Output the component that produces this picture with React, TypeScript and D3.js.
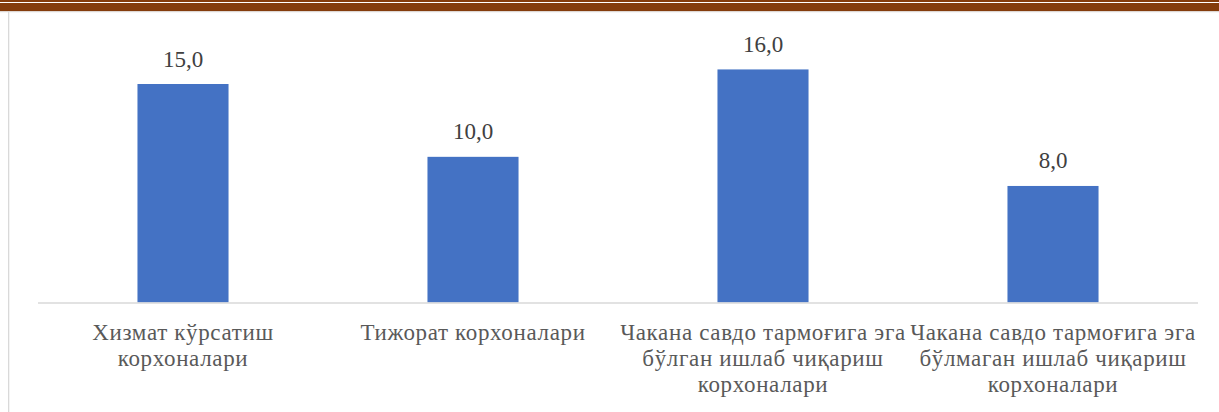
import React from "react";
import * as d3 from "d3";

const categories = [
  "Хизмат кўрсатиш корхоналари",
  "Тижорат корхоналари",
  "Чакана савдо тармоғига эга бўлган ишлаб чиқариш корхоналари",
  "Чакана савдо тармоғига эга бўлмаган ишлаб чиқариш корхоналари",
];
const categoryLines = [
  ["Хизмат кўрсатиш", "корхоналари"],
  ["Тижорат корхоналари"],
  ["Чакана савдо тармоғига эга", "бўлган ишлаб чиқариш", "корхоналари"],
  ["Чакана савдо тармоғига эга", "бўлмаган ишлаб чиқариш", "корхоналари"],
];
const values = [15.0, 10.0, 16.0, 8.0];
const yMax = 18;

const W = 1219;
const H = 412;
const FONT = "Liberation Serif, Tinos, Times New Roman, serif";

export default function App() {
  const x = d3
    .scaleBand<string>()
    .domain(categories)
    .range([38, 1198])
    .paddingInner(0.686)
    .paddingOuter(0.343);
  const y = d3.scaleLinear().domain([0, yMax]).range([302.5, 40.3]);
  const fmt = (v: number) => v.toFixed(1).replace(".", ",");

  return (
    <svg
      width={W}
      height={H}
      style={{ position: "absolute", left: 0, top: 0, background: "#fff" }}
    >
      <rect x={0} y={0} width={W} height={2} fill="#843C0C" />
      <rect x={0} y={3} width={W} height={8.3} fill="#843C0C" />
      <rect x={0} y={11.3} width={W} height={1} fill="#e0e0e0" />
      <rect x={8} y={12} width={1.3} height={H - 12} fill="#d9d9d9" />

      {categories.map((c, i) => {
        const bx = x(c)!;
        const bw = x.bandwidth();
        const top = y(values[i]);
        return (
          <g key={c}>
            <rect x={bx} y={top} width={bw} height={y(0) - top} fill="#4472C4" />
            <text
              x={bx + bw / 2}
              y={top - 17.5}
              textAnchor="middle"
              style={{ fontFamily: FONT, fontSize: "23px" }}
              fill="#404040"
            >
              {fmt(values[i])}
            </text>
          </g>
        );
      })}

      <line x1={38} x2={1198} y1={y(0) + 0.5} y2={y(0) + 0.5} stroke="#d9d9d9" strokeWidth={1.5} />

      {categories.map((c, i) => {
        const cx = x(c)! + x.bandwidth() / 2;
        return (
          <text
            key={"l" + c}
            textAnchor="middle"
            style={{ fontFamily: FONT, fontSize: "23px", letterSpacing: "0.65px" }}
            fill="#595959"
          >
            {categoryLines[i].map((ln, j) => (
              <tspan key={j} x={cx} y={340 + j * 26}>
                {ln}
              </tspan>
            ))}
          </text>
        );
      })}
    </svg>
  );
}
